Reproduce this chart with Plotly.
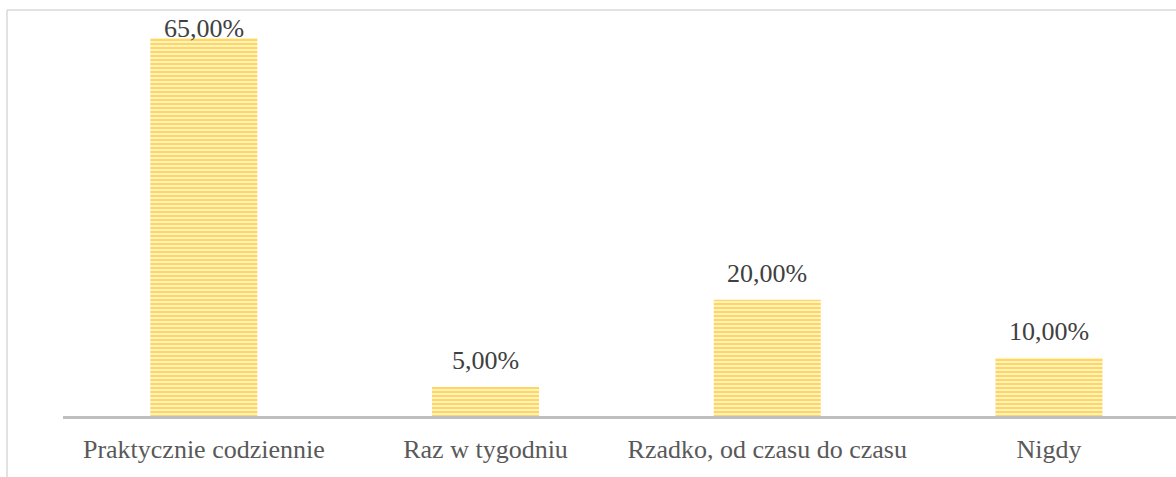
import plotly.graph_objects as go

categories = ["Praktycznie codziennie", "Raz w tygodniu", "Rzadko, od czasu do czasu", "Nigdy"]
shares = [65.0, 5.0, 20.0, 10.0]
labels = [f"{v:.2f}".replace(".", ",") + "%" for v in shares]

W, H = 1176, 477
L, R, T, B = 63, 0, 10, 61
plot_w = W - L - R
plot_h = H - T - B
y_max = 69.8
px_per_unit = plot_h / y_max

fig = go.Figure(
    go.Bar(
        x=categories,
        y=shares,
        width=0.38,
        marker=dict(
            color="#FFEDB0",
            line=dict(width=0),
            pattern=dict(shape="-", fgcolor="#FFD75F", bgcolor="#FFF1C4",
                         size=4, solidity=0.5, fillmode="replace"),
        ),
    )
)

# value labels sit ~26 px above each bar, but never higher than the chart top allows
label_gap = 26 / px_per_unit
label_cap = 388 / px_per_unit
for cat, v, txt in zip(categories, shares, labels):
    fig.add_annotation(
        x=cat, y=min(v + label_gap, label_cap), text=txt, showarrow=False,
        yanchor="middle", xanchor="center",
        font=dict(family="Liberation Serif", size=26, color="#404040"),
    )

# category spacing of ~282 px, plot area cut off at the right edge
step = 281.7
fig.update_xaxes(
    range=[-0.5, -0.5 + plot_w / step],
    showline=True, linecolor="#BFBFBF", linewidth=3,
    showgrid=False, ticks="", ticklabelstandoff=8,
    tickfont=dict(family="Liberation Serif", size=26, color="#595959"),
)
fig.update_yaxes(range=[0, y_max], visible=False, showgrid=False)

# thin frame along the left and top
frame = dict(color="#D9D9D9", width=1.5)
x0 = (7 - L) / plot_w
fig.add_shape(type="line", xref="paper", yref="paper", x0=x0, x1=1.02, y0=1, y1=1, line=frame)
fig.add_shape(type="line", xref="paper", yref="paper", x0=x0, x1=x0, y0=1, y1=-0.2, line=frame)

fig.update_layout(
    width=W, height=H,
    margin=dict(l=L, r=R, t=T, b=B),
    paper_bgcolor="white", plot_bgcolor="white",
    showlegend=False, bargap=0.62,
)

fig.write_html("out.html")
